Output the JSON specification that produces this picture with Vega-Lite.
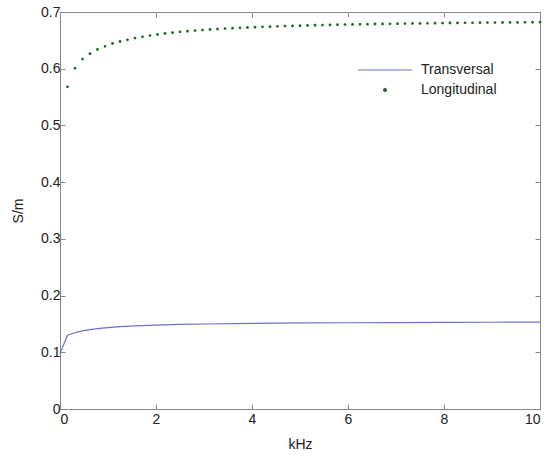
{
  "$schema": "https://vega.github.io/schema/vega-lite/v6.json",
  "autosize": "none",
  "width": 480,
  "height": 397,
  "padding": {"left": 60, "top": 12, "right": 10, "bottom": 47},
  "background": "white",
  "config": {
    "view": {"stroke": "#888888", "strokeWidth": 1},
    "axis": {
      "grid": false,
      "domainColor": "#888888",
      "tickColor": "#888888",
      "tickSize": -5,
      "labelFont": "Liberation Sans",
      "labelFontSize": 14,
      "labelColor": "#222222",
      "titleFont": "Liberation Sans",
      "titleFontSize": 14,
      "titleFontWeight": "normal",
      "titleColor": "#222222"
    },
    "legend": {
      "labelFont": "Liberation Sans",
      "labelFontSize": 14,
      "labelColor": "#222222"
    }
  },
  "data": {
    "values": [
      {"f": 0.0, "s": 0.098, "series": "Transversal"},
      {"f": 0.156, "s": 0.130, "series": "Transversal"},
      {"f": 0.3125, "s": 0.1344, "series": "Transversal"},
      {"f": 0.469, "s": 0.1377, "series": "Transversal"},
      {"f": 0.625, "s": 0.1400, "series": "Transversal"},
      {"f": 0.781, "s": 0.1418, "series": "Transversal"},
      {"f": 0.9375, "s": 0.1432, "series": "Transversal"},
      {"f": 1.25, "s": 0.1452, "series": "Transversal"},
      {"f": 1.5625, "s": 0.1466, "series": "Transversal"},
      {"f": 2.0, "s": 0.1480, "series": "Transversal"},
      {"f": 2.5, "s": 0.1491, "series": "Transversal"},
      {"f": 3.0, "s": 0.1499, "series": "Transversal"},
      {"f": 4.0, "s": 0.1510, "series": "Transversal"},
      {"f": 5.0, "s": 0.1518, "series": "Transversal"},
      {"f": 6.0, "s": 0.1521, "series": "Transversal"},
      {"f": 7.0, "s": 0.1524, "series": "Transversal"},
      {"f": 8.0, "s": 0.1527, "series": "Transversal"},
      {"f": 9.0, "s": 0.1530, "series": "Transversal"},
      {"f": 10.0, "s": 0.1532, "series": "Transversal"},
      {"f": 0.156, "s": 0.568, "series": "Longitudinal"},
      {"f": 0.3125, "s": 0.601, "series": "Longitudinal"},
      {"f": 0.469, "s": 0.617, "series": "Longitudinal"},
      {"f": 0.625, "s": 0.6265, "series": "Longitudinal"},
      {"f": 0.781, "s": 0.634, "series": "Longitudinal"},
      {"f": 0.9375, "s": 0.6395, "series": "Longitudinal"},
      {"f": 1.094, "s": 0.6445, "series": "Longitudinal"},
      {"f": 1.25, "s": 0.648, "series": "Longitudinal"},
      {"f": 1.406, "s": 0.651, "series": "Longitudinal"},
      {"f": 1.5625, "s": 0.654, "series": "Longitudinal"},
      {"f": 1.719, "s": 0.6563, "series": "Longitudinal"},
      {"f": 1.875, "s": 0.6585, "series": "Longitudinal"},
      {"f": 2.031, "s": 0.6604, "series": "Longitudinal"},
      {"f": 2.1875, "s": 0.6621, "series": "Longitudinal"},
      {"f": 2.344, "s": 0.6636, "series": "Longitudinal"},
      {"f": 2.5, "s": 0.6650, "series": "Longitudinal"},
      {"f": 2.656, "s": 0.6661, "series": "Longitudinal"},
      {"f": 2.8125, "s": 0.6672, "series": "Longitudinal"},
      {"f": 2.969, "s": 0.6682, "series": "Longitudinal"},
      {"f": 3.125, "s": 0.6691, "series": "Longitudinal"},
      {"f": 3.281, "s": 0.6700, "series": "Longitudinal"},
      {"f": 3.4375, "s": 0.6707, "series": "Longitudinal"},
      {"f": 3.594, "s": 0.6714, "series": "Longitudinal"},
      {"f": 3.75, "s": 0.6721, "series": "Longitudinal"},
      {"f": 3.906, "s": 0.6727, "series": "Longitudinal"},
      {"f": 4.0625, "s": 0.6732, "series": "Longitudinal"},
      {"f": 4.219, "s": 0.6738, "series": "Longitudinal"},
      {"f": 4.375, "s": 0.6742, "series": "Longitudinal"},
      {"f": 4.531, "s": 0.6747, "series": "Longitudinal"},
      {"f": 4.6875, "s": 0.6751, "series": "Longitudinal"},
      {"f": 4.844, "s": 0.6755, "series": "Longitudinal"},
      {"f": 5.0, "s": 0.6759, "series": "Longitudinal"},
      {"f": 5.156, "s": 0.6763, "series": "Longitudinal"},
      {"f": 5.3125, "s": 0.6766, "series": "Longitudinal"},
      {"f": 5.469, "s": 0.6769, "series": "Longitudinal"},
      {"f": 5.625, "s": 0.6772, "series": "Longitudinal"},
      {"f": 5.781, "s": 0.6775, "series": "Longitudinal"},
      {"f": 5.9375, "s": 0.6778, "series": "Longitudinal"},
      {"f": 6.094, "s": 0.6781, "series": "Longitudinal"},
      {"f": 6.25, "s": 0.6783, "series": "Longitudinal"},
      {"f": 6.406, "s": 0.6785, "series": "Longitudinal"},
      {"f": 6.5625, "s": 0.6788, "series": "Longitudinal"},
      {"f": 6.719, "s": 0.6790, "series": "Longitudinal"},
      {"f": 6.875, "s": 0.6792, "series": "Longitudinal"},
      {"f": 7.031, "s": 0.6794, "series": "Longitudinal"},
      {"f": 7.1875, "s": 0.6796, "series": "Longitudinal"},
      {"f": 7.344, "s": 0.6798, "series": "Longitudinal"},
      {"f": 7.5, "s": 0.6799, "series": "Longitudinal"},
      {"f": 7.656, "s": 0.6801, "series": "Longitudinal"},
      {"f": 7.8125, "s": 0.6803, "series": "Longitudinal"},
      {"f": 7.969, "s": 0.6804, "series": "Longitudinal"},
      {"f": 8.125, "s": 0.6806, "series": "Longitudinal"},
      {"f": 8.281, "s": 0.6807, "series": "Longitudinal"},
      {"f": 8.4375, "s": 0.6809, "series": "Longitudinal"},
      {"f": 8.594, "s": 0.6810, "series": "Longitudinal"},
      {"f": 8.75, "s": 0.6811, "series": "Longitudinal"},
      {"f": 8.906, "s": 0.6813, "series": "Longitudinal"},
      {"f": 9.0625, "s": 0.6814, "series": "Longitudinal"},
      {"f": 9.219, "s": 0.6815, "series": "Longitudinal"},
      {"f": 9.375, "s": 0.6816, "series": "Longitudinal"},
      {"f": 9.531, "s": 0.6817, "series": "Longitudinal"},
      {"f": 9.6875, "s": 0.6818, "series": "Longitudinal"},
      {"f": 9.844, "s": 0.6819, "series": "Longitudinal"},
      {"f": 10.0, "s": 0.6820, "series": "Longitudinal"}
    ]
  },
  "layer": [
    {
      "transform": [{"filter": "datum.series == 'Transversal'"}],
      "mark": {"type": "line", "strokeWidth": 1.2, "interpolate": "linear"},
      "encoding": {
        "x": {
          "field": "f", "type": "quantitative",
          "scale": {"domain": [0, 10], "nice": false},
          "axis": {
            "orient": "bottom", "values": [0, 2, 4, 6, 8, 10],
            "title": "kHz", "labelPadding": 8, "titlePadding": 11
          }
        },
        "y": {
          "field": "s", "type": "quantitative",
          "scale": {"domain": [0, 0.7], "nice": false, "zero": true},
          "axis": {
            "orient": "left", "values": [0, 0.1, 0.2, 0.3, 0.4, 0.5, 0.6, 0.7],
            "labelExpr": "datum.value == 0 ? '0' : format(datum.value, '.1f')",
            "title": "S/m", "labelPadding": 5, "titlePadding": 15
          }
        },
        "color": {
          "field": "series", "type": "nominal",
          "scale": {"domain": ["Transversal", "Longitudinal"], "range": ["#7070cc", "#1f6a2a"]},
          "legend": {
            "title": null, "orient": "none", "legendX": 318, "legendY": 51,
            "symbolSize": 100, "rowPadding": 6, "labelOffset": 29,
            "encode": {
              "symbols": {
                "update": {
                  "fill": {"scale": "color", "field": "value"},
                  "stroke": {"scale": "color", "field": "value"},
                  "strokeWidth": {"value": 1.2},
                  "opacity": {"value": 1}
                }
              }
            }
          }
        }
      }
    },
    {
      "transform": [{"filter": "datum.series == 'Longitudinal'"}],
      "mark": {"type": "point", "filled": true, "size": 100, "opacity": 1, "strokeWidth": 0},
      "encoding": {
        "x": {
          "field": "f", "type": "quantitative",
          "axis": {"orient": "top", "values": [0, 2, 4, 6, 8, 10], "labels": false, "title": null}
        },
        "y": {
          "field": "s", "type": "quantitative",
          "axis": {"orient": "right", "values": [0, 0.1, 0.2, 0.3, 0.4, 0.5, 0.6, 0.7], "labels": false, "title": null}
        },
        "color": {
          "field": "series", "type": "nominal"
        },
        "shape": {
          "field": "series", "type": "nominal",
          "scale": {
            "domain": ["Transversal", "Longitudinal"],
            "range": ["M-5.4,0H5.4", "M-0.28,0A0.28,0.28 0 1,0 0.28,0A0.28,0.28 0 1,0 -0.28,0Z"]
          },
          "legend": {
            "title": null, "orient": "none", "legendX": 318, "legendY": 51,
            "symbolSize": 100, "rowPadding": 6, "labelOffset": 29
          }
        }
      }
    }
  ],
  "resolve": {
    "axis": {"x": "independent", "y": "independent"}
  }
}
